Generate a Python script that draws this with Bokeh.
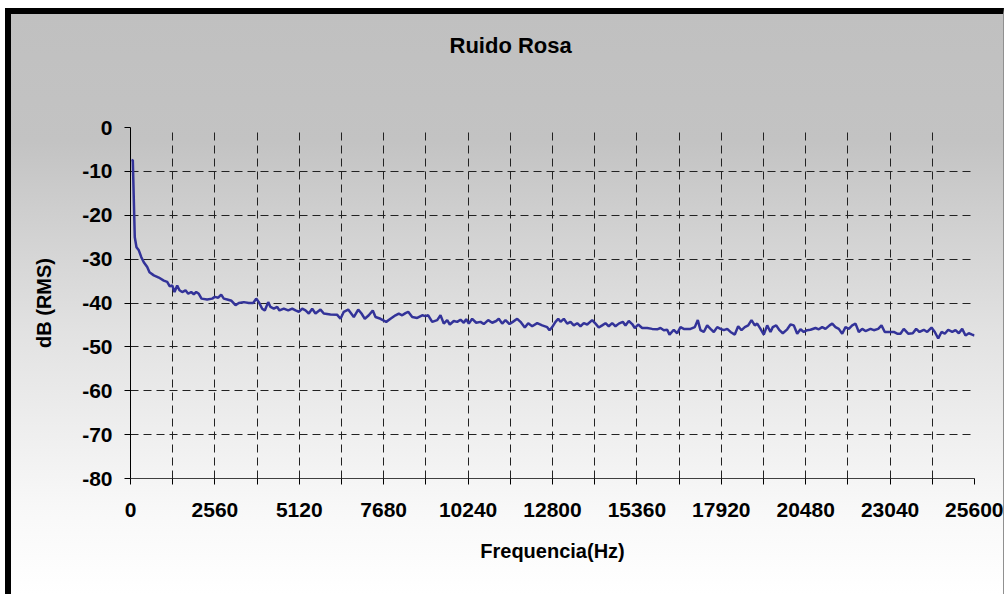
from bokeh.plotting import figure
from bokeh.models import FixedTicker, Title
from bokeh.embed import file_html
from bokeh.resources import INLINE

title_text = "Ruido Rosa"
x_label = "Frequencia(Hz)"
y_label = "dB (RMS)"

x_ticks = list(range(0, 25601, 1280))
x_tick_labels = {t: (str(t) if t % 2560 == 0 else "") for t in x_ticks}
y_ticks = list(range(-80, 1, 10))
y_tick_labels = {t: str(t) for t in y_ticks}

freq_hz = [
    30, 70, 130, 182, 252, 325, 403, 507, 576, 707, 858, 1010, 1113, 1192, 1265, 1335,
    1416, 1486, 1568, 1668, 1750, 1841, 1920, 1993, 2072, 2154, 2326, 2478, 2557, 2660,
    2751, 2830, 2933, 3064, 3185, 3285, 3437, 3588, 3722, 3813, 3892, 3995, 4074, 4177,
    4246, 4347, 4450, 4519, 4650, 4783, 4905, 5005, 5105, 5208, 5308, 5408, 5511, 5611,
    5763, 5863, 6066, 6270, 6370, 6470, 6603, 6694, 6773, 6907, 7007, 7107, 7228, 7349,
    7431, 7583, 7756, 7886, 8038, 8138, 8241, 8341, 8423, 8545, 8696, 8848, 8948, 9030,
    9151, 9303, 9403, 9503, 9606, 9685, 9806, 9909, 10009, 10109, 10182, 10261, 10364,
    10486, 10616, 10716, 10849, 10971, 11092, 11171, 11274, 11374, 11496, 11596, 11729,
    11829, 11960, 12063, 12184, 12336, 12488, 12639, 12709, 12791, 12891, 12973, 13043,
    13143, 13246, 13346, 13446, 13549, 13649, 13749, 13852, 14004, 14104, 14204, 14307,
    14407, 14507, 14610, 14710, 14811, 14932, 15014, 15114, 15217, 15296, 15399, 15520,
    15672, 15824, 15975, 16076, 16176, 16279, 16349, 16479, 16582, 16682, 16782, 16986,
    17116, 17207, 17289, 17389, 17492, 17592, 17693, 17796, 17896, 17996, 18099, 18199,
    18329, 18432, 18533, 18633, 18736, 18836, 18936, 19009, 19109, 19209, 19312, 19412,
    19482, 19585, 19685, 19785, 19919, 20019, 20119, 20222, 20322, 20422, 20525, 20625,
    20777, 20877, 20980, 21080, 21204, 21284, 21384, 21484, 21587, 21687, 21788, 21891,
    21991, 22091, 22194, 22294, 22446, 22546, 22679, 22779, 22879, 23000, 23152, 23255,
    23355, 23455, 23589, 23728, 23831, 23932, 24062, 24165, 24296, 24396, 24499, 24599,
    24699, 24802, 24924, 25024, 25124, 25227, 25327, 25427, 25530, 25600,
]
level_db = [
    -7.4, -7.5, -25.0, -27.3, -28.0, -29.5, -30.7, -31.8, -33.0, -33.7, -34.2, -34.9, -35.2, -36.2, -36.0, -37.5,
    -36.0, -37.1, -37.5, -37.1, -37.9, -37.5, -38.0, -37.5, -37.9, -39.0, -39.2, -39.0, -38.6, -38.8,
    -38.1, -39.0, -39.2, -39.5, -40.5, -40.0, -39.8, -40.0, -40.0, -39.0, -39.8, -41.3, -41.7, -39.8,
    -40.9, -41.3, -40.9, -41.7, -41.3, -41.7, -41.3, -41.7, -42.0, -41.3, -41.7, -42.4, -41.3, -42.4,
    -41.5, -42.4, -42.6, -42.7, -43.6, -42.0, -41.5, -42.4, -43.2, -41.5, -42.4, -43.6, -42.8, -41.7,
    -43.2, -43.6, -44.3, -43.6, -42.8, -42.4, -42.8, -42.3, -42.0, -43.2, -43.4, -42.8, -43.0, -42.8,
    -44.3, -43.9, -42.8, -44.7, -43.9, -44.9, -44.1, -44.3, -43.8, -44.5, -43.7, -44.7, -43.6,
    -44.5, -44.3, -44.8, -43.9, -44.5, -44.1, -43.6, -44.7, -43.9, -44.8, -44.3, -43.6,
    -44.3, -45.6, -44.6, -45.3, -44.6, -45.1, -45.5, -46.2, -45.5, -44.3, -43.6, -44.3,
    -43.6, -44.7, -44.3, -45.1, -44.6, -45.3, -44.6, -44.9, -43.9, -44.7, -45.6, -45.1,
    -44.6, -45.3, -44.6, -45.3, -44.7, -44.3, -45.1, -44.1, -44.8, -45.7, -44.9, -45.7,
    -45.7, -45.9, -46.0, -45.7, -46.2, -46.1, -47.2, -46.1, -46.9, -45.5, -45.9, -45.9,
    -45.5, -43.9, -46.2, -46.6, -45.1, -45.9, -46.6, -45.5, -45.9, -46.2, -45.9, -46.6,
    -47.2, -45.3, -46.2, -45.5, -45.1, -43.9, -45.1, -44.7, -45.9, -47.2, -45.1, -46.6,
    -45.5, -45.1, -46.2, -46.9, -46.0, -44.9, -45.1, -47.0, -46.0, -46.6, -46.2, -46.1,
    -45.7, -46.0, -45.5, -45.9, -45.1, -44.7, -45.5, -45.9, -47.0, -45.5, -45.9, -45.1,
    -44.7, -46.6, -45.9, -46.4, -45.9, -46.2, -45.9, -45.1, -46.6, -46.6, -46.6, -47.0,
    -47.0, -45.9, -47.0, -46.9, -45.9, -46.6, -46.1, -46.6, -45.6, -46.6, -48.1, -46.6,
    -47.0, -46.1, -46.6, -46.2, -46.9, -45.9, -47.4, -46.9, -47.2, -47.4,
]

FONT = "Liberation Sans"

p = figure(
    frame_width=844, frame_height=351,
    x_range=(0, 25600), y_range=(-80, 0),
    output_backend="svg", toolbar_location=None,
    min_border_left=119, min_border_top=113, min_border_right=29, min_border_bottom=116,
    styles={
        "background": "linear-gradient(180deg, #c0c0c0 0%, #c3c3c3 22%, #e2e2e2 55%, #f8f8f8 85%, #ffffff 100%)",
        "border-left": "6px solid #000000",
        "border-top": "6px solid #000000",
        "border-right": "1px solid #909090",
        "margin-left": "5px",
        "margin-top": "8px",
    },
)
p.border_fill_color = None
p.background_fill_color = None
p.outline_line_color = None

# near-invisible spacer between the frame and the title, pushing the title upward
spacer = Title(text=".", text_font_size="2px", standoff=57, text_color="#c8c8c8", text_alpha=0.02)
p.add_layout(spacer, "above")

p.title.text = title_text
p.title.align = "left"
p.title.vertical_align = "top"
p.title.offset = 319
p.title.standoff = 16
p.title.text_font = FONT
p.title.text_font_style = "bold"
p.title.text_font_size = "22px"
p.title.text_color = "#000000"

p.line(freq_hz, level_db, line_color="#333399", line_width=2.5)

p.xaxis.ticker = FixedTicker(ticks=x_ticks)
p.xaxis.major_label_overrides = x_tick_labels
p.yaxis.ticker = FixedTicker(ticks=y_ticks)
p.yaxis.major_label_overrides = y_tick_labels
p.xaxis.minor_tick_line_color = None
p.yaxis.minor_tick_line_color = None
for ax in (p.xaxis, p.yaxis):
    ax.major_tick_in = 0
    ax.major_tick_out = 6
    ax.major_tick_line_color = "#000000"
    ax.axis_line_color = "#000000"
    ax.major_label_text_font = FONT
    ax.major_label_text_font_style = "bold"
    ax.major_label_text_font_size = "21px"
    ax.major_label_text_color = "#000000"
    ax.axis_label_text_font = FONT
    ax.axis_label_text_font_style = "bold"
    ax.axis_label_text_font_size = "20px"
    ax.axis_label_text_color = "#000000"
p.xaxis.axis_line_color = "#404040"
p.xaxis.axis_label = x_label
p.yaxis.axis_label = y_label
p.xaxis.major_label_standoff = 18
p.yaxis.major_label_standoff = 12
p.xaxis.axis_label_standoff = 20
p.yaxis.axis_label_standoff = 24

p.xgrid.grid_line_color = "#222222"
p.ygrid.grid_line_color = "#222222"
p.xgrid.grid_line_dash = "8 5"
p.ygrid.grid_line_dash = "8 5"
p.xgrid.grid_line_width = 1
p.ygrid.grid_line_width = 1

open("out.html", "w").write(file_html(p, INLINE))
